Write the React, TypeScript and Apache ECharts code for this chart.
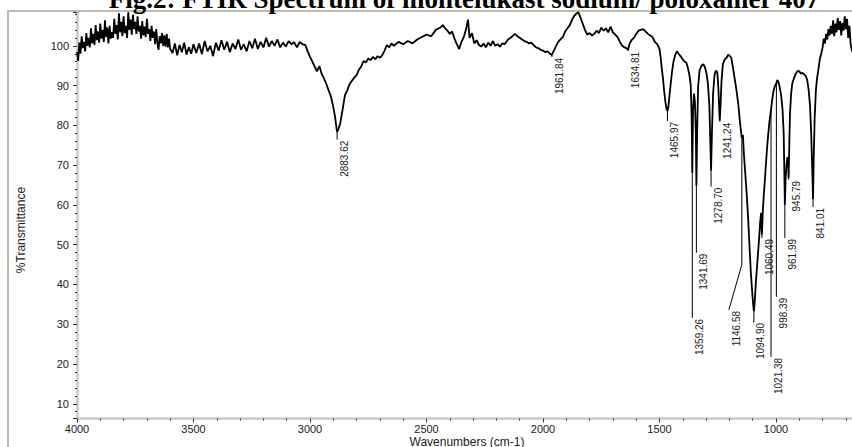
import React, { useEffect, useRef } from "react";
import * as echarts from "echarts";

// ---- Data (wavenumber cm-1, %Transmittance) ----
const spectrumHigh: [number, number][] = [
  [4000, 98.5], [3995, 96.2], [3990, 100.8], [3985, 98.0], [3980, 102.4], [3975, 99.4],
  [3970, 101.0], [3965, 98.6], [3960, 103.2], [3955, 100.0], [3950, 102.0], [3945, 99.6],
  [3940, 104.4], [3935, 100.6], [3930, 103.0], [3925, 100.2], [3920, 105.2], [3915, 101.4],
  [3910, 103.6], [3905, 100.8], [3900, 105.6], [3895, 101.8], [3890, 104.0], [3885, 101.0],
  [3880, 106.4], [3875, 102.2], [3870, 104.6], [3865, 100.6], [3860, 105.0], [3855, 101.8],
  [3850, 103.4], [3845, 102.0], [3840, 106.8], [3835, 103.0], [3830, 105.2], [3825, 101.6],
  [3820, 108.2], [3815, 103.4], [3810, 106.0], [3805, 102.4], [3800, 107.4], [3795, 103.2],
  [3790, 105.0], [3785, 102.0], [3780, 108.4], [3775, 104.0], [3770, 106.6], [3765, 102.8],
  [3760, 107.8], [3755, 104.2], [3750, 106.0], [3745, 103.0], [3740, 107.4], [3735, 103.6],
  [3730, 105.0], [3725, 101.8], [3720, 106.2], [3715, 102.6], [3710, 104.8], [3705, 102.2],
  [3700, 106.8], [3695, 103.0], [3690, 104.2], [3685, 101.2], [3680, 105.0], [3675, 102.0],
  [3670, 103.6], [3665, 100.4], [3660, 104.2], [3655, 100.8], [3650, 99.0], [3645, 102.4],
  [3640, 100.6], [3635, 103.2], [3630, 100.0], [3625, 102.6], [3620, 99.8], [3615, 103.0],
  [3610, 99.6], [3605, 101.8], [3600, 99.2], [3590, 98.2],
  [3580, 100.6], [3570, 97.6], [3560, 100.2], [3550, 98.4], [3540, 100.8], [3530, 97.8],
  [3520, 99.6], [3510, 98.0], [3500, 100.4], [3488, 98.2], [3476, 100.6], [3464, 97.9],
  [3452, 101.2], [3440, 98.6], [3428, 100.0], [3416, 97.4], [3404, 100.8], [3392, 98.8],
  [3380, 101.4], [3368, 99.0], [3356, 101.0], [3344, 98.4], [3332, 100.6], [3320, 99.2],
  [3308, 101.6], [3296, 99.0], [3284, 100.4], [3272, 98.6], [3260, 101.2], [3248, 99.4],
  [3236, 101.8], [3224, 99.2], [3212, 101.0], [3200, 99.6], [3188, 102.0], [3176, 99.8],
  [3164, 101.2], [3152, 100.0], [3140, 101.6], [3128, 99.6], [3116, 100.8], [3104, 99.8],
  [3092, 101.2], [3080, 100.4], [3068, 100.9], [3056, 99.6], [3044, 101.0], [3032, 100.4],
  [3020, 100.2], [3010, 98.6],
];

const spectrumMid: [number, number][] = [
  [3000, 97.2], [2990, 96.0], [2980, 94.8], [2970, 93.6], [2960, 94.9], [2950, 93.0],
  [2940, 91.8], [2930, 90.4], [2920, 88.8], [2910, 87.2], [2900, 84.6], [2892, 82.0],
  [2886, 79.2], [2883.62, 78.4], [2878, 79.0], [2870, 80.6], [2860, 84.0], [2850, 87.6],
  [2840, 88.8], [2830, 90.4], [2820, 91.2], [2810, 92.0], [2800, 92.6], [2790, 94.0],
  [2780, 94.8], [2770, 96.2], [2760, 95.8], [2750, 96.8], [2740, 96.4], [2730, 97.2],
  [2720, 96.6], [2710, 97.4], [2700, 97.0], [2690, 97.6], [2680, 98.8], [2670, 100.2],
  [2660, 99.6], [2650, 100.6], [2640, 100.0], [2620, 101.0], [2600, 100.4], [2580, 101.2],
  [2560, 100.6], [2540, 101.6], [2520, 102.2], [2500, 102.8], [2480, 102.4], [2460, 104.0],
  [2440, 104.6], [2430, 105.2], [2420, 104.4], [2410, 103.8], [2400, 103.0], [2390, 103.6],
  [2380, 101.8], [2370, 100.4], [2360, 99.2], [2350, 101.0], [2340, 102.2], [2330, 104.2],
  [2322, 106.6], [2315, 102.0], [2305, 103.2], [2295, 100.6], [2285, 101.4], [2275, 100.2],
  [2265, 99.8], [2255, 100.6], [2245, 99.6], [2235, 100.8], [2225, 100.0], [2215, 101.2],
  [2205, 100.0], [2195, 100.4], [2185, 99.8], [2175, 100.6], [2165, 100.4], [2150, 101.6],
  [2135, 102.2], [2120, 103.0], [2110, 102.4], [2100, 102.0], [2090, 101.6], [2080, 101.2],
  [2070, 101.0], [2060, 100.6], [2050, 100.8], [2040, 100.2], [2030, 99.6], [2020, 99.4],
  [2010, 99.0],
];

const spectrumLow: [number, number][] = [
  [2000, 98.8], [1990, 98.4], [1980, 98.6], [1970, 98.0], [1961.84, 97.7], [1955, 98.6],
  [1945, 99.8], [1935, 101.0], [1925, 101.6], [1915, 102.2], [1905, 103.6], [1895, 104.4],
  [1885, 105.2], [1875, 106.6], [1865, 107.6], [1855, 108.2], [1848, 108.4], [1840, 107.2],
  [1830, 105.6], [1820, 104.0], [1810, 102.8], [1800, 103.2], [1790, 102.6], [1780, 103.0],
  [1770, 103.8], [1760, 103.2], [1750, 104.6], [1740, 103.8], [1730, 104.4], [1720, 103.4],
  [1710, 104.8], [1700, 103.4], [1690, 102.8], [1680, 102.2], [1670, 101.0], [1660, 100.0],
  [1650, 99.6], [1642, 99.4], [1634.81, 99.0], [1628, 100.6], [1620, 101.4], [1610, 102.0],
  [1600, 103.0], [1590, 103.8], [1580, 104.0], [1570, 104.2], [1560, 103.6], [1550, 103.0],
  [1540, 102.6], [1530, 102.2], [1520, 101.0], [1510, 100.4], [1500, 99.2], [1495, 97.0],
  [1490, 94.2], [1485, 91.8], [1480, 88.6], [1475, 86.0], [1470, 84.2], [1465.97, 83.6],
  [1462, 84.6], [1458, 87.0], [1452, 90.4], [1446, 93.6], [1440, 96.0], [1432, 97.8],
  [1425, 98.6], [1418, 98.0], [1410, 97.4], [1400, 96.6], [1392, 96.0], [1385, 95.8],
  [1378, 94.4], [1372, 92.8], [1366, 90.2], [1362, 82.0], [1359.26, 68.0], [1356, 84.0],
  [1352, 88.0], [1348, 86.0], [1344, 78.0], [1341.69, 64.8], [1338, 80.0], [1334, 90.0],
  [1328, 93.8], [1320, 95.0], [1312, 95.4], [1305, 94.6], [1298, 93.0], [1292, 90.4],
  [1286, 85.0], [1282, 76.0], [1278.7, 68.6], [1275, 78.0], [1270, 88.0], [1264, 92.6],
  [1258, 93.8], [1252, 93.4], [1247, 89.0], [1243, 83.0], [1241.24, 81.2], [1238, 85.0],
  [1234, 91.0], [1228, 95.4], [1220, 96.6], [1212, 97.0], [1205, 97.8], [1198, 97.4],
  [1192, 97.0], [1185, 94.6], [1178, 92.0], [1170, 89.0], [1162, 85.4], [1155, 81.0],
  [1150, 78.4], [1146.58, 76.8], [1142, 77.6], [1138, 73.0], [1132, 68.0], [1126, 63.0],
  [1120, 57.0], [1114, 50.0], [1108, 43.0], [1102, 38.0], [1098, 35.0], [1094.9, 33.2],
  [1091, 35.8], [1087, 40.0], [1082, 44.0], [1077, 48.0], [1072, 52.0], [1068, 55.6],
  [1064, 58.0], [1060.49, 52.5], [1057, 57.8], [1053, 62.0], [1048, 66.0], [1043, 70.4],
  [1038, 74.6], [1033, 78.0], [1028, 81.0], [1021.38, 84.0], [1015, 87.0], [1010, 88.8],
  [1004, 90.0], [998.39, 90.6], [994, 91.4], [990, 91.0], [984, 89.6], [978, 87.6],
  [972, 84.0], [967, 78.0], [963, 64.0], [961.99, 60.0], [959, 66.0], [955, 70.0],
  [951, 72.0], [948, 70.0], [945.79, 66.8], [943, 75.0], [940, 83.0], [935, 88.0],
  [930, 90.6], [922, 92.0], [915, 93.0], [908, 93.6], [900, 93.6], [893, 93.0],
  [886, 93.2], [879, 92.8], [872, 92.4], [866, 91.4], [860, 89.0], [854, 85.0],
  [849, 78.0], [845, 70.0], [841.01, 61.4], [838, 72.0], [834, 82.0], [829, 88.6],
  [824, 91.8], [818, 94.0], [812, 96.6], [806, 98.0], [800, 99.6], [795, 101.8],
  [790, 100.6], [785, 103.0], [780, 101.6], [775, 104.2], [770, 102.6], [765, 105.0],
  [760, 103.0], [755, 106.4], [750, 102.4], [745, 105.6], [740, 103.4], [735, 107.0],
  [730, 104.0], [725, 106.2], [720, 102.6], [715, 105.8], [710, 103.8], [705, 107.4],
  [700, 104.2], [695, 106.8], [690, 102.0], [685, 105.0], [680, 100.6], [675, 99.0],
  [670, 98.2], [665, 99.6], [660, 98.8], [650, 99.2],
];

// Peak annotations
const peakLabels = [
  "2883.62", "1961.84", "1634.81", "1465.97", "1359.26", "1341.69", "1278.70", "1241.24",
  "1146.58", "1094.90", "1060.49", "1021.38", "998.39", "961.99", "945.79", "841.01",
];
const peakWavenumbers = [
  2883.62, 1961.84, 1634.81, 1465.97, 1359.26, 1341.69, 1278.7, 1241.24,
  1146.58, 1094.9, 1060.49, 1021.38, 998.39, 961.99, 945.79, 841.01,
];
const peakTops = [78.4, 97.7, 99.0, 83.6, 68.0, 64.8, 68.6, 81.2, 76.8, 33.2, 52.5, 84.0, 90.6, 60.0, 66.8, 61.4];
const peakLabelStarts = [76.4, 97.2, 98.7, 81.1, 31.6, 48.0, 64.6, 80.9, 33.6, 30.6, 51.7, 21.8, 36.9, 51.7, 66.3, 59.5];
const peakKnees = [null, null, null, null, null, null, null, null, 45.0, null, null, null, null, null, null, null];
const peakShifts = [0, 0, 0, 0, 0, 0, 0, 0, -13, -1, 0, 0, 0, 0, 0, 0];

const yTickLabels = [10, 20, 30, 40, 50, 60, 70, 80, 90, 100];
const xTickLabels = [4000, 3500, 3000, 2500, 2000, 1500, 1000];

const FONT = "'Liberation Sans', Arial, sans-serif";

export default function App() {
  const ref = useRef<HTMLDivElement>(null);

  useEffect(() => {
    if (!ref.current) return;
    const chart = echarts.init(ref.current, undefined, { renderer: "svg" });
    const spectrum = [...spectrumHigh, ...spectrumMid, ...spectrumLow];
    const peaks = peakWavenumbers.map((w, i) => [
      w,
      peakTops[i],
      peakLabelStarts[i],
      peakKnees[i] == null ? peakLabelStarts[i] : peakKnees[i],
      peakShifts[i],
      i,
    ]);

    chart.setOption({
      animation: false,
      backgroundColor: "#ffffff",
      grid: { left: 77, top: 12, right: 7.5, height: 406.5 },
      xAxis: {
        type: "value",
        inverse: true,
        min: 500,
        max: 4000,
        interval: 500,
        axisLine: { show: true, lineStyle: { color: "#c8c8c8", width: 2.5 } },
        axisTick: { show: true, length: 4, lineStyle: { color: "#333", width: 1 } },
        minorTick: { show: true, splitNumber: 5, length: 2, lineStyle: { color: "#333", width: 1 } },
        splitLine: { show: false },
        axisLabel: {
          color: "#222",
          fontSize: 11,
          fontFamily: FONT,
          margin: 5,
          formatter: (v: number) => (xTickLabels.includes(v) ? String(v) : ""),
        },
      },
      yAxis: {
        type: "value",
        min: 6.3,
        max: 108.5,
        splitNumber: 10,
        axisLine: { show: true, lineStyle: { color: "#c8c8c8", width: 2.5 } },
        axisTick: { show: true, length: 4, lineStyle: { color: "#333", width: 1 } },
        minorTick: { show: true, splitNumber: 5, length: 2, lineStyle: { color: "#333", width: 1 } },
        splitLine: { show: false },
        axisLabel: {
          color: "#222",
          fontSize: 11,
          fontFamily: FONT,
          margin: 8,
          showMinLabel: false,
          showMaxLabel: false,
          formatter: (v: number) => (yTickLabels.includes(v) ? String(v) : ""),
        },
      },
      graphic: [
        {
          type: "rect",
          z: -10,
          shape: { x: 8, y: 11, width: 900, height: 460 },
          style: { fill: "none", stroke: "#bdb9ab", lineWidth: 2 },
          silent: true,
        },
        {
          type: "text",
          x: 464,
          y: -1.5,
          style: {
            text: "Fig.2: FTIR Spectrum of montelukast sodium/ poloxamer 407",
            align: "center",
            verticalAlign: "middle",
            fontSize: 27,
            fontWeight: "bold",
            fontFamily: "'Liberation Serif', 'Times New Roman', serif",
            fill: "#000",
          },
        },
        {
          type: "text",
          x: 467,
          y: 442,
          style: {
            text: "Wavenumbers (cm-1)",
            align: "center",
            verticalAlign: "middle",
            fontSize: 12,
            fontFamily: FONT,
            fill: "#222",
          },
        },
        {
          type: "text",
          x: 21,
          y: 230,
          rotation: Math.PI / 2,
          style: {
            text: "%Transmittance",
            align: "center",
            verticalAlign: "middle",
            fontSize: 12,
            fontFamily: FONT,
            fill: "#222",
          },
        },
      ],
      series: [
        {
          type: "line",
          data: spectrum,
          showSymbol: false,
          symbol: "none",
          lineStyle: { color: "#000", width: 1.8 },
          silent: true,
          z: 3,
        },
        {
          type: "custom",
          data: peaks,
          silent: true,
          z: 4,
          renderItem: (params: any, api: any) => {
            const w = api.value(0);
            const top = api.coord([w, api.value(1)]);
            const end = api.coord([w, api.value(2)]);
            const knee = api.coord([w, api.value(3)]);
            const shift = api.value(4);
            const idx = api.value(5);
            const endX = top[0] + shift;
            const children: any[] = [
              {
                type: "polyline",
                shape: { points: [[top[0], top[1]], [knee[0], knee[1]], [endX, end[1]]] },
                style: { stroke: "#000", lineWidth: 1, fill: "none" },
              },
              {
                type: "text",
                x: endX + 2.5,
                y: end[1] + 1,
                rotation: Math.PI / 2,
                style: {
                  text: peakLabels[idx],
                  align: "right",
                  verticalAlign: "top",
                  fontSize: 10,
                  fontFamily: FONT,
                  fill: "#222",
                },
              },
            ];
            return { type: "group", children };
          },
        },
      ],
    });
    return () => chart.dispose();
  }, []);

  return (
    <div
      style={{
        position: "fixed",
        left: 0,
        top: 0,
        width: 852,
        height: 447,
        overflow: "hidden",
        background: "#fff",
      }}
    >
      <div ref={ref} style={{ width: 900, height: 447 }} />
    </div>
  );
}
